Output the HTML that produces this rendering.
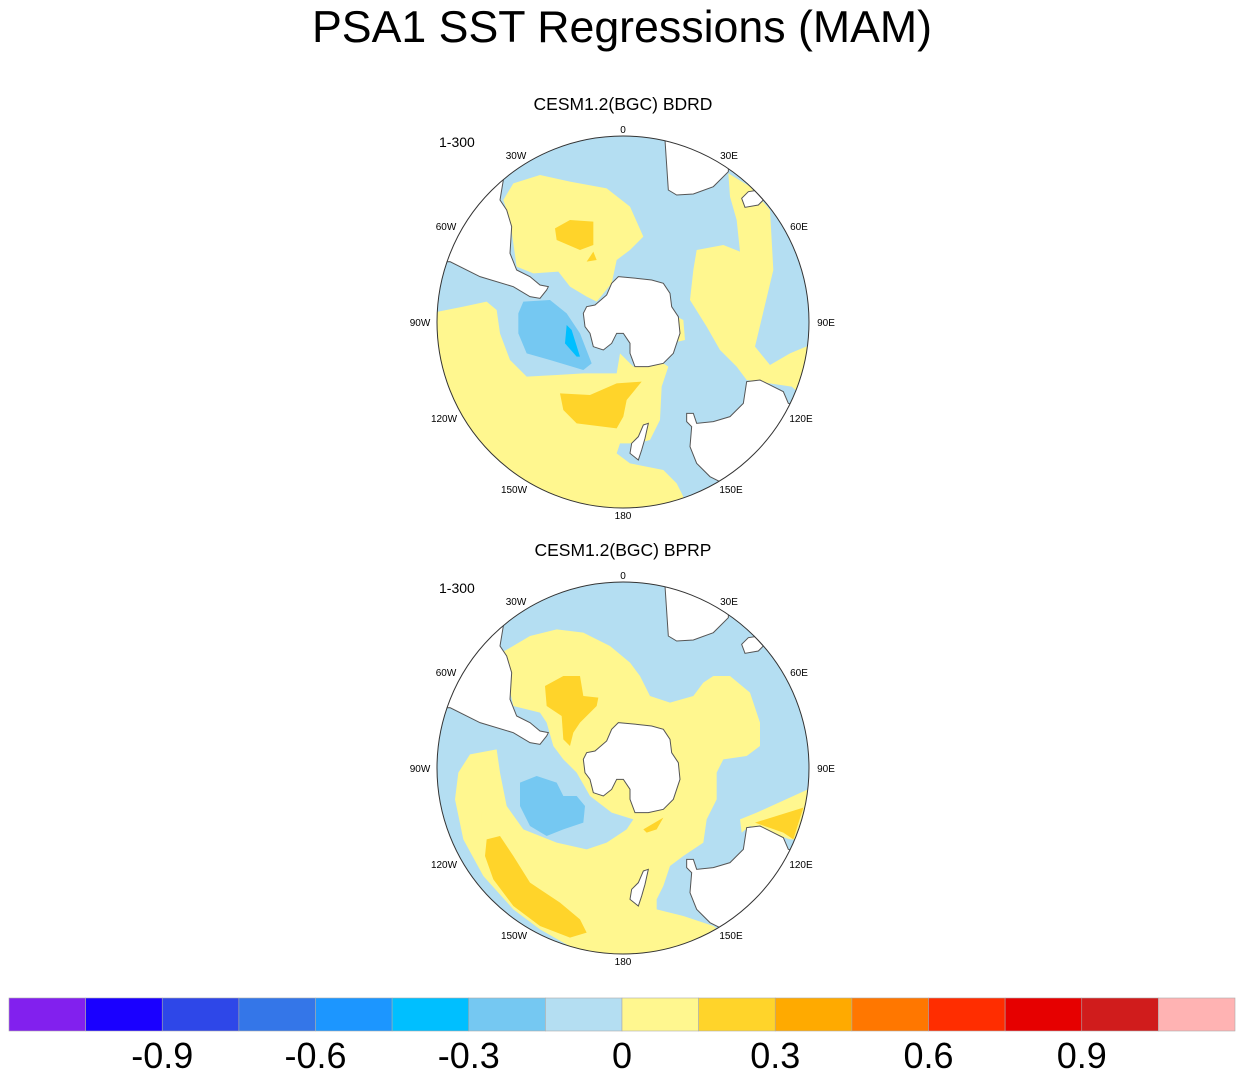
<!DOCTYPE html>
<html><head><meta charset="utf-8">
<style>
html,body{margin:0;padding:0;background:#fff;}
body{width:1244px;height:1078px;overflow:hidden;font-family:"Liberation Sans",sans-serif;}
svg text{font-family:"Liberation Sans",sans-serif;}
</style></head>
<body>
<svg id="fig" width="1244" height="1078" viewBox="0 0 1244 1078" xmlns="http://www.w3.org/2000/svg">
<defs>
<clipPath id="circ"><circle cx="579" cy="606" r="558"/></clipPath>
<g id="land">
<polygon fill="#fff" stroke="#555" stroke-width="1" vector-effect="non-scaling-stroke" points="-100,430 60,425 150,470 250,500 300,530 330,535 350,510 355,500 330,495 300,470 260,450 240,400 245,320 230,270 210,240 220,180 230,150 230,-100 -100,-100"/>
<polygon fill="#fff" stroke="#555" stroke-width="1" vector-effect="non-scaling-stroke" points="705,-100 705,60 715,210 740,225 790,222 850,200 895,155 900,-100"/>
<polygon fill="#fff" stroke="#555" stroke-width="1" vector-effect="non-scaling-stroke" points="935,235 955,215 975,212 1000,240 985,255 945,262"/>
<polygon fill="#fff" stroke="#555" stroke-width="1" vector-effect="non-scaling-stroke" points="950,785 990,780 1060,815 1075,850 1250,900 1250,1250 870,1085 840,1070 800,1030 780,980 785,920 770,905 770,880 790,880 800,910 850,905 900,890 940,850"/>
<polygon fill="#fff" stroke="#555" stroke-width="1" vector-effect="non-scaling-stroke" points="640,915 655,910 645,955 635,990 625,1020 600,1000 605,970 625,950"/>
<polygon fill="#fff" stroke="#555" stroke-width="1" vector-effect="non-scaling-stroke" points="565,470 620,475 665,480 700,490 720,520 725,560 745,590 750,640 730,700 700,730 655,740 615,740 600,700 600,670 580,640 560,640 545,670 520,690 490,680 480,640 465,620 460,580 470,560 495,555 530,525 545,490"/>
</g>
</defs>

<text x="622" y="42" font-size="44.7" text-anchor="middle">PSA1 SST Regressions (MAM)</text>

<!-- Map 1 -->
<g>
<text x="623" y="110" font-size="17.5" text-anchor="middle">CESM1.2(BGC) BDRD</text>
<text x="439" y="147" font-size="14">1-300</text>
<g transform="translate(430,120) scale(0.33333)">
<g clip-path="url(#circ)">
<rect x="0" y="0" width="1200" height="1200" fill="#B4DEF2"/>
<polygon fill="#FFF78F" points="-100,600 100,560 170,545 200,570 210,640 240,720 290,770 380,765 460,760 560,760 570,700 610,740 700,730 715,740 695,800 690,900 660,960 620,970 570,970 560,1000 600,1030 700,1050 740,1090 760,1130 760,1300 -100,1300"/>
<polygon fill="#FFD42A" points="390,820 480,825 560,790 635,785 590,840 580,890 560,925 440,910 400,870"/>
<polygon fill="#75C8F2" points="280,545 360,540 410,580 450,640 485,730 460,750 360,720 290,700 265,640 265,580"/>
<polygon fill="#00BFFF" points="410,615 425,630 450,710 440,710 405,670"/>
<polygon fill="#FFF78F" points="250,190 330,165 420,185 530,205 600,260 640,350 600,390 560,420 545,490 500,545 470,530 420,500 385,455 310,460 260,440 240,300 220,240"/>
<polygon fill="#FFD42A" points="375,325 420,300 490,305 490,375 450,390 380,360"/>
<polygon fill="#FFD42A" points="470,425 490,395 500,420"/>
<polygon fill="#FFF78F" points="800,390 880,375 930,395 920,300 900,230 895,160 960,200 1020,270 1030,450 975,680 1020,735 1080,700 1200,650 1200,900 1085,800 950,780 920,740 870,690 830,620 780,540 790,450"/>
<polygon fill="#FFF78F" points="740,590 760,600 765,660 745,665"/>
<use href="#land"/>
</g>
<circle cx="579" cy="606" r="558" fill="none" stroke="#333" stroke-width="1" vector-effect="non-scaling-stroke"/>
</g>
<g font-size="10" text-anchor="middle">
<text x="623" y="133">0</text><text x="516" y="159">30W</text><text x="729" y="159">30E</text>
<text x="446" y="230">60W</text><text x="799" y="230">60E</text><text x="420" y="326">90W</text>
<text x="826" y="326">90E</text><text x="444" y="422">120W</text><text x="801" y="422">120E</text>
<text x="514" y="493">150W</text><text x="731" y="493">150E</text><text x="623" y="519">180</text>
</g>
</g>

<!-- Map 2 -->
<g>
<text x="623" y="556" font-size="17.5" text-anchor="middle">CESM1.2(BGC) BPRP</text>
<text x="439" y="593" font-size="14">1-300</text>
<g transform="translate(430,566) scale(0.33333)">
<g clip-path="url(#circ)">
<rect x="0" y="0" width="1200" height="1200" fill="#B4DEF2"/>
<polygon fill="#FFF78F" points="85,620 120,565 200,550 210,620 230,720 280,790 380,830 470,850 530,830 590,790 610,760 545,740 480,690 440,620 400,580 370,540 350,470 330,440 250,420 230,330 215,260 300,210 380,190 460,200 540,240 600,290 630,330 660,390 720,410 790,390 820,350 850,330 900,330 960,380 990,470 990,540 950,570 880,580 860,620 860,700 830,760 820,830 760,870 720,900 700,960 680,1000 680,1030 760,1050 850,1080 900,1120 700,1300 330,1090 250,1030 160,930 100,820 75,700"/>
<polygon fill="#FFF78F" points="930,760 980,740 1200,640 1200,820 1080,820 960,780 935,800"/>
<polygon fill="#FFD42A" points="975,770 1120,725 1090,820 1060,800"/>
<polygon fill="#FFD42A" points="170,820 210,810 250,870 300,950 390,1010 450,1060 470,1100 420,1115 330,1080 250,1020 190,940 165,870"/>
<polygon fill="#FFD42A" points="345,360 400,330 450,330 460,390 505,395 500,420 450,470 430,500 420,540 400,520 395,450 350,420"/>
<polygon fill="#FFD42A" points="640,790 700,755 680,790 650,800"/>
<polygon fill="#75C8F2" points="270,650 320,630 380,650 400,690 440,690 465,720 460,770 400,790 350,810 300,780 270,720"/>
<polygon fill="#B4DEF2" points="805,275 822,272 830,300 812,312"/>
<polygon fill="#FFF78F" points="155,740 165,738 167,772 155,772"/>
<use href="#land"/>
</g>
<circle cx="579" cy="606" r="558" fill="none" stroke="#333" stroke-width="1" vector-effect="non-scaling-stroke"/>
</g>
<g font-size="10" text-anchor="middle">
<text x="623" y="579">0</text><text x="516" y="605">30W</text><text x="729" y="605">30E</text>
<text x="446" y="676">60W</text><text x="799" y="676">60E</text><text x="420" y="772">90W</text>
<text x="826" y="772">90E</text><text x="444" y="868">120W</text><text x="801" y="868">120E</text>
<text x="514" y="939">150W</text><text x="731" y="939">150E</text><text x="623" y="965">180</text>
</g>
</g>

<g id="colorbar"></g>
</svg>
<script>
const binColors = ["#8220EE","#1A00FF","#2E47E8","#3476E8","#1C96FF","#00BFFF","#75C8F2","#B4DEF2","#FFF78F","#FFD42A","#FFAA00","#FF7700","#FF2D00","#E60000","#D01C1C","#FFB3B3"];
const levels = [-1.05,-0.9,-0.75,-0.6,-0.45,-0.3,-0.15,0,0.15,0.3,0.45,0.6,0.75,0.9,1.05];
const tickLabels = ["-0.9","-0.6","-0.3","0","0.3","0.6","0.9"];
const tickValues = [-0.9,-0.6,-0.3,0,0.3,0.6,0.9];
(function(){
  const NS="http://www.w3.org/2000/svg";
  const cb=document.getElementById('colorbar');
  const x0=9,x1=1235,y0=998,h=33;
  const w=(x1-x0)/binColors.length;
  const step=levels[1]-levels[0];
  const xv=v=>x0+w*(1+(v-levels[0])/step);
  binColors.forEach((c,i)=>{
    const r=document.createElementNS(NS,'rect');
    r.setAttribute('x',x0+i*w);r.setAttribute('y',y0);r.setAttribute('width',w);r.setAttribute('height',h);
    r.setAttribute('fill',c);r.setAttribute('stroke','#aaa');r.setAttribute('stroke-width','0.6');
    
    
    cb.appendChild(r);
  });
  tickValues.forEach((v,i)=>{
    const t=document.createElementNS(NS,'text');
    t.setAttribute('x',xv(v));t.setAttribute('y',1068);t.setAttribute('font-size','36');t.setAttribute('text-anchor','middle');
    t.textContent=tickLabels[i];
    
    
    cb.appendChild(t);
  });
})();
</script>
</body></html>
